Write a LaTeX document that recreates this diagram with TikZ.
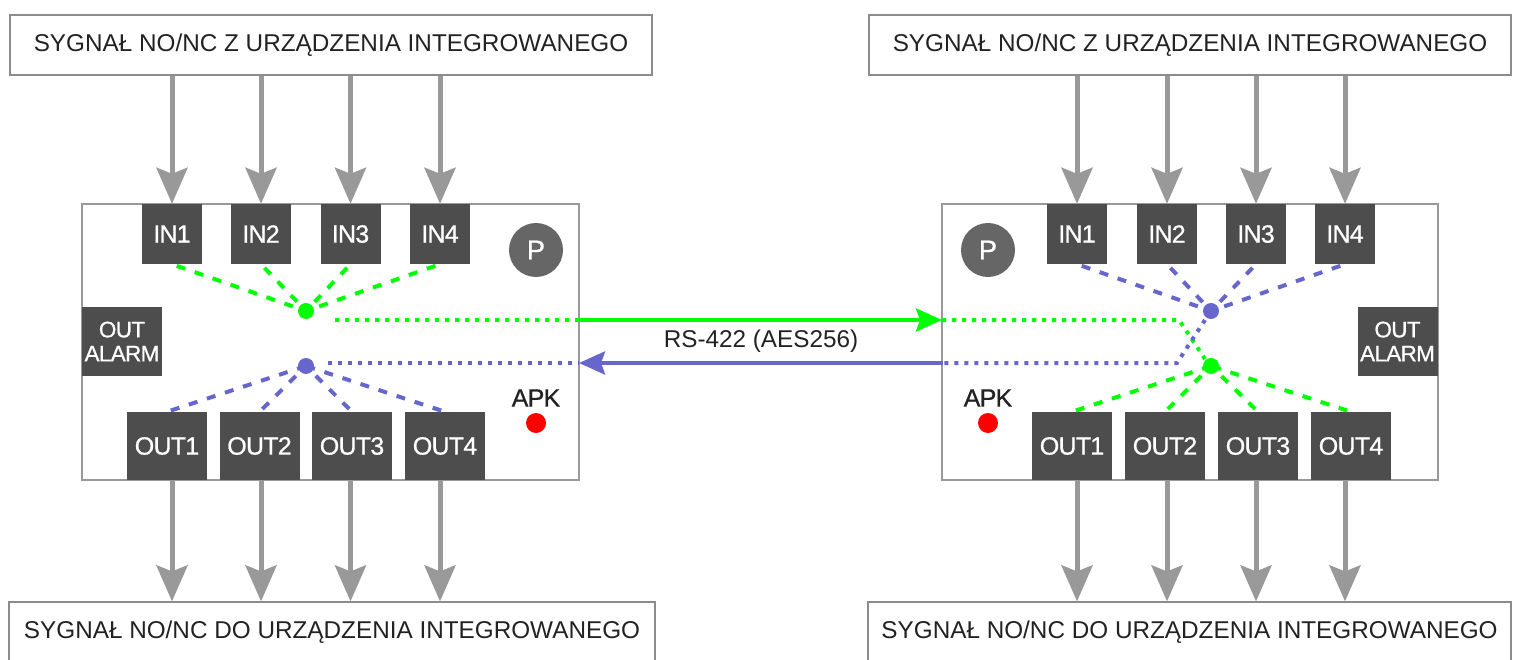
\documentclass[tikz,border=0pt]{standalone}
\usepackage{fontspec}
\setmainfont{Liberation Sans}
\newfontfamily\boxfont[LetterSpace=-3,FakeBold=0.8]{Liberation Sans}
\usetikzlibrary{arrows.meta,calc}
\definecolor{arrgray}{HTML}{999999}
\definecolor{boxgray}{HTML}{4D4D4D}
\definecolor{pgray}{HTML}{666666}
\definecolor{lgreen}{HTML}{00FF00}
\definecolor{lblue}{HTML}{6666CC}
\definecolor{edgegray}{HTML}{8C8C8C}
\definecolor{txt}{HTML}{222222}
\begin{document}
\begin{tikzpicture}[x=1pt,y=-1pt,
  sigbox/.style={draw=edgegray,line width=1.2pt,fill=white,minimum height=60pt,inner sep=0pt,text=txt,font=\fontsize{24.3}{28}\selectfont},
  devbox/.style={draw=arrgray,line width=1.5pt,fill=white,minimum width=497pt,minimum height=276pt,inner sep=0pt},
  inbox/.style={fill=boxgray,minimum width=60pt,minimum height=60pt,inner sep=0pt,text=white,font=\boxfont\fontsize{25}{26}\selectfont},
  outbox/.style={fill=boxgray,minimum width=80pt,minimum height=68pt,inner sep=0pt,text=white,font=\boxfont\fontsize{25}{26}\selectfont},
  alarmbox/.style={fill=boxgray,minimum width=80pt,minimum height=69pt,inner sep=0pt,text=white,align=center,font=\boxfont\fontsize{22.5}{24}\selectfont},
  pcirc/.style={circle,fill=pgray,minimum size=54pt,inner sep=0pt,text=white,font=\boxfont\fontsize{27}{28}\selectfont},
  apklabel/.style={text=txt,inner sep=0pt,font=\boxfont\fontsize{25}{26}\selectfont},
  reddot/.style={circle,fill=red,minimum size=20pt,inner sep=0pt},
  gdot/.style={circle,fill=lgreen,minimum size=16pt,inner sep=0pt},
  bdot/.style={circle,fill=lblue,minimum size=16pt,inner sep=0pt},
  garrow/.style={draw=arrgray,line width=5pt,-{Stealth[length=36pt,width=31pt,inset=6pt]}},
  dashline/.style={line width=4pt,dash pattern=on 9pt off 10pt},
  dotline/.style={line width=4pt,dash pattern=on 4pt off 6pt},
  linkarrow/.style={line width=4pt,-{Stealth[length=26pt,width=23pt,inset=4pt]}}
]
\useasboundingbox (0,0) rectangle (1520,660);
\clip (0,0) rectangle (1520,660);

% signal boxes
\node[sigbox,minimum width=642pt] (topL) at (331,45) {SYGNAŁ NO/NC Z URZĄDZENIA INTEGROWANEGO};
\node[sigbox,minimum width=642pt] (topR) at (1190,45) {SYGNAŁ NO/NC Z URZĄDZENIA INTEGROWANEGO};
\node[sigbox,minimum width=646pt] (botL) at (332,632) {SYGNAŁ NO/NC DO URZĄDZENIA INTEGROWANEGO};
\node[sigbox,minimum width=643pt] (botR) at (1189.5,632) {SYGNAŁ NO/NC DO URZĄDZENIA INTEGROWANEGO};

% devices
\node[devbox] (devL) at (330.5,342) {};
\node[devbox,minimum width=496pt] (devR) at (1190,342) {};

% left device
\node[inbox] (inL1) at (172,234) {IN1};
\node[inbox] (inL2) at (261,234) {IN2};
\node[inbox] (inL3) at (350.5,234) {IN3};
\node[inbox] (inL4) at (440,234) {IN4};
\node[outbox] (outL1) at (167,446) {OUT1};
\node[outbox] (outL2) at (259.5,446) {OUT2};
\node[outbox] (outL3) at (352,446) {OUT3};
\node[outbox] (outL4) at (445,446) {OUT4};
\node[alarmbox] (alL) at (122,341.5) {OUT\\ALARM};
\node[pcirc] (pL) at (536,250) {P};
\node[apklabel] (apkL) at (536,398) {APK};
\node[reddot] (redL) at (536,423) {};

% right device
\node[inbox] (inR1) at (1077,234) {IN1};
\node[inbox] (inR2) at (1167,234) {IN2};
\node[inbox] (inR3) at (1256,234) {IN3};
\node[inbox] (inR4) at (1345,234) {IN4};
\node[outbox] (outR1) at (1072,446) {OUT1};
\node[outbox] (outR2) at (1165,446) {OUT2};
\node[outbox] (outR3) at (1258,446) {OUT3};
\node[outbox] (outR4) at (1351,446) {OUT4};
\node[alarmbox] (alR) at (1397.5,341.5) {OUT\\ALARM};
\node[pcirc] (pR) at (988,250) {P};
\node[apklabel] (apkR) at (988,398) {APK};
\node[reddot] (redR) at (988,423) {};

% gray signal arrows
\foreach \n in {inL1,inL2,inL3,inL4}{
  \draw[garrow] (topL.south -| \n) -- (\n.north);
  \draw[garrow] (\n |- outL1.south) -- (\n |- botL.north);
}
\foreach \n in {inR1,inR2,inR3,inR4}{
  \draw[garrow] (topR.south -| \n) -- (\n.north);
  \draw[garrow] (\n |- outR1.south) -- (\n |- botR.north);
}

% junction centres
\coordinate (gcL) at (306,311);
\coordinate (bcL) at (306,366);
\coordinate (bcR) at (1211,311);
\coordinate (gcR) at (1211,366);
\coordinate (gL) at (578,320);
\coordinate (gR) at (942,320);
\coordinate (bL) at (579,363);
\coordinate (bR) at (943,363);
\coordinate (gbend) at (1179,320);
\coordinate (bbend) at (1177,363);

% dashed fan lines
\foreach \n in {inL1,inL2,inL3,inL4}
  \draw[dashline,lgreen,shorten <=5pt] (\n.south) -- (gcL);
\foreach \n in {outL1,outL2,outL3,outL4}
  \draw[dashline,lblue,shorten <=4pt] (\n.north) -- (bcL);
\foreach \n in {inR1,inR2,inR3,inR4}
  \draw[dashline,lblue,shorten <=5pt] (\n.south) -- (bcR);
\foreach \n in {outR1,outR2,outR3,outR4}
  \draw[dashline,lgreen,shorten <=4pt] (\n.north) -- (gcR);

% dotted internal paths
\draw[dotline,lgreen] ($(gcL)+(29,9)$) -- (gL);
\draw[dotline,lblue] ($(bcL)+(22,-3)$) -- (bL);
\draw[dotline,lgreen] (gR) -- (gbend) -- ($(gcR)+(-6,-7)$);
\draw[dotline,lblue] ($(bcR)+(-6,9)$) -- (bbend) -- (bR);

% junction dots
\node[gdot] (gdotL) at (gcL) {};
\node[bdot] (bdotL) at (bcL) {};
\node[bdot] (bdotR) at (bcR) {};
\node[gdot] (gdotR) at (gcR) {};

% RS-422 link
\draw[linkarrow,lgreen] (gL) -- (gR);
\draw[linkarrow,lblue] (bR) -- (bL);
\node[text=txt,inner sep=0pt,font=\fontsize{24.3}{28}\selectfont] (rs) at (761,341) {RS-422 (AES256)};
\end{tikzpicture}
\end{document}
